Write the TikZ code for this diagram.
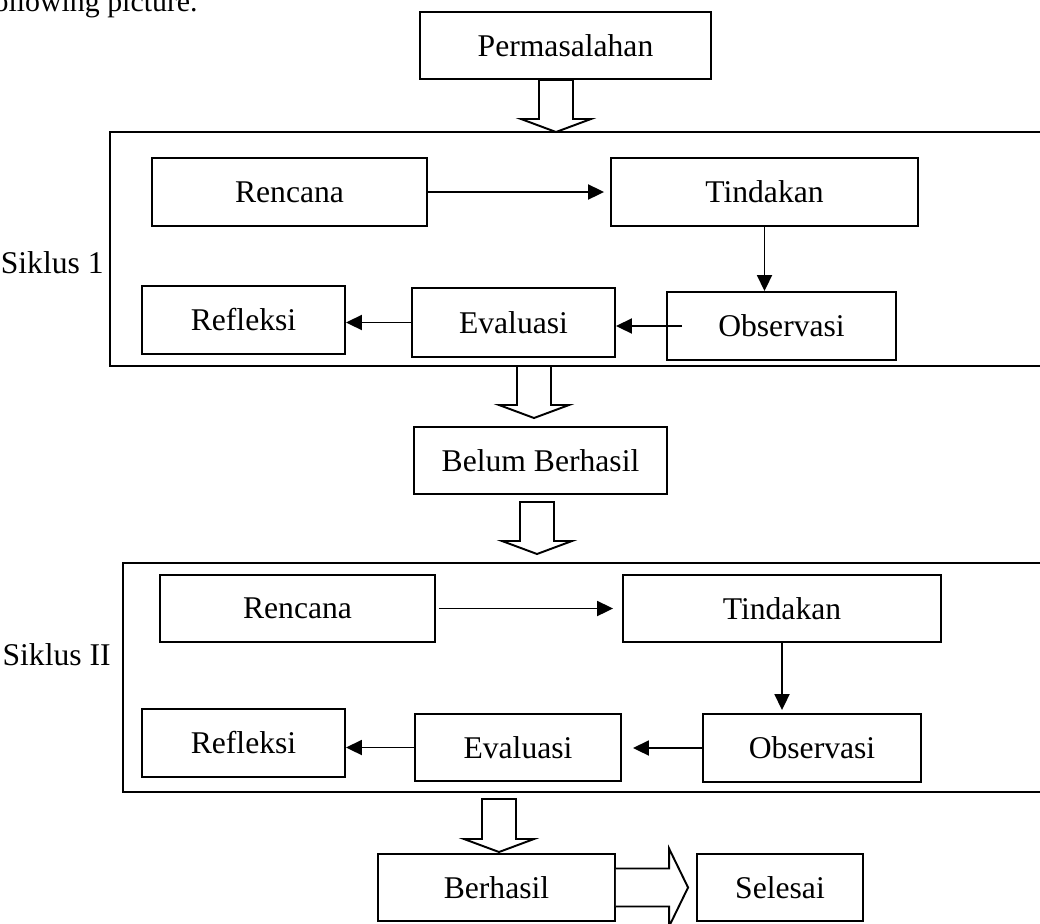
\documentclass[tikz,border=0pt]{standalone}
\usepackage{fontspec}
\setmainfont{Liberation Serif}
\usetikzlibrary{arrows.meta,calc}

\tikzset{
  kotak/.style={draw, line width=1.1pt, inner sep=0pt, font=\fontsize{18}{22}\selectfont},
  teks/.style={inner sep=0pt, font=\fontsize{18}{22}\selectfont},
  panah/.style={line width=1.1pt, -{Triangle[length=0.32cm,width=0.3cm]}},
  bingkai/.style={line width=1.1pt},
  panahblok/.style={line width=1.1pt, fill=white, line join=miter}
}

% 空心向下箭头：起点，箭尖
\newcommand{\panahbawah}[2]{%
  \draw[panahblok] ($(#1)+(-17,0)$) -- ($(#2)+(-17,-13)$) -- ($(#2)+(-35,-13)$) -- (#2)
    -- ($(#2)+(35,-13)$) -- ($(#2)+(17,-13)$) -- ($(#1)+(17,0)$) -- cycle;}

\begin{document}
\begin{tikzpicture}[x=0.02cm, y=-0.02cm]
\useasboundingbox (0,0) rectangle (1040,923);

% 上方的文字
\node[teks, font=\fontsize{17}{20}\selectfont, anchor=base east] (kalimat) at (198,11) {following picture.};

% 两个循环的外框
\coordinate (f1nw) at (110,132);
\coordinate (f1sw) at (110,366);
\coordinate (f2nw) at (123,563);
\coordinate (f2sw) at (123,792);
\draw[bingkai] (f1nw -| 1050,0) -- (f1nw) -- (f1sw) -- (f1sw -| 1050,0);
\draw[bingkai] (f2nw -| 1050,0) -- (f2nw) -- (f2sw) -- (f2sw -| 1050,0);

\node[teks, anchor=base east] (siklus1) at (104,273) {Siklus 1};
\node[teks, anchor=base east] (siklus2) at (111,665) {Siklus II};

% 各个方框
\node[kotak, minimum width=5.82cm, minimum height=1.34cm] (perm) at (565.5,45.5) {Permasalahan};

\node[kotak, minimum width=5.50cm, minimum height=1.36cm] (ren1) at (289.5,192) {Rencana};
\node[kotak, minimum width=6.14cm, minimum height=1.36cm] (tin1) at (764.5,192) {Tindakan};
\node[kotak, minimum width=4.58cm, minimum height=1.36cm] (obs1) at (781.5,326) {Observasi};
\node[kotak, minimum width=4.06cm, minimum height=1.38cm] (eva1) at (513.5,322.5) {Evaluasi};
\node[kotak, minimum width=4.06cm, minimum height=1.36cm] (ref1) at (243.5,320) {Refleksi};

\node[kotak, minimum width=5.06cm, minimum height=1.34cm] (bel) at (540.5,460.5) {Belum Berhasil};

\node[kotak, minimum width=5.50cm, minimum height=1.34cm] (ren2) at (297.5,608.5) {Rencana};
\node[kotak, minimum width=6.36cm, minimum height=1.34cm] (tin2) at (782,608.5) {Tindakan};
\node[kotak, minimum width=4.36cm, minimum height=1.36cm] (obs2) at (812,748) {Observasi};
\node[kotak, minimum width=4.12cm, minimum height=1.34cm] (eva2) at (518,747.5) {Evaluasi};
\node[kotak, minimum width=4.06cm, minimum height=1.36cm] (ref2) at (243.5,743) {Refleksi};

\node[kotak, minimum width=4.74cm, minimum height=1.34cm] (ber) at (496.5,887.5) {Berhasil};
\node[kotak, minimum width=3.32cm, minimum height=1.34cm] (sel) at (780,887.5) {Selesai};

% 循环内的箭头
\draw[panah, shorten >=0.12cm] (ren1.east) -- (tin1.west);
\draw[panah] (tin1.south) -- (tin1.south |- obs1.north);
\draw[panah] ([xshift=0.32cm]obs1.west) -- (obs1.west -| eva1.east);
\draw[panah] (eva1.west) -- (eva1.west -| ref1.east);

\draw[panah, shorten <=0.06cm, shorten >=0.18cm] (ren2.east) -- (tin2.west);
\draw[panah, shorten >=0.06cm] (tin2.south) -- (tin2.south |- obs2.north);
\draw[panah, shorten >=0.22cm] (obs2.west) -- (obs2.west -| eva2.east);
\draw[panah] (eva2.west) -- (eva2.west -| ref2.east);

% 空心箭头
\coordinate (a1) at (556,132);
\coordinate (a2) at (534,418);
\coordinate (a3) at (537,554);
\coordinate (a4) at (499,852);
\panahbawah{perm.south -| a1}{a1}
\panahbawah{f1sw -| a2}{a2}
\panahbawah{537,502}{a3}
\panahbawah{499,799}{a4}

\coordinate (a5) at ($(sel.west)+(-8,0)$);
\draw[panahblok] ($(ber.east)+(0,-19)$) -- ($(a5)+(-19,-19)$) -- ($(a5)+(-19,-39)$) -- (a5)
  -- ($(a5)+(-19,39)$) -- ($(a5)+(-19,19)$) -- ($(ber.east)+(0,19)$);

\end{tikzpicture}
\end{document}
